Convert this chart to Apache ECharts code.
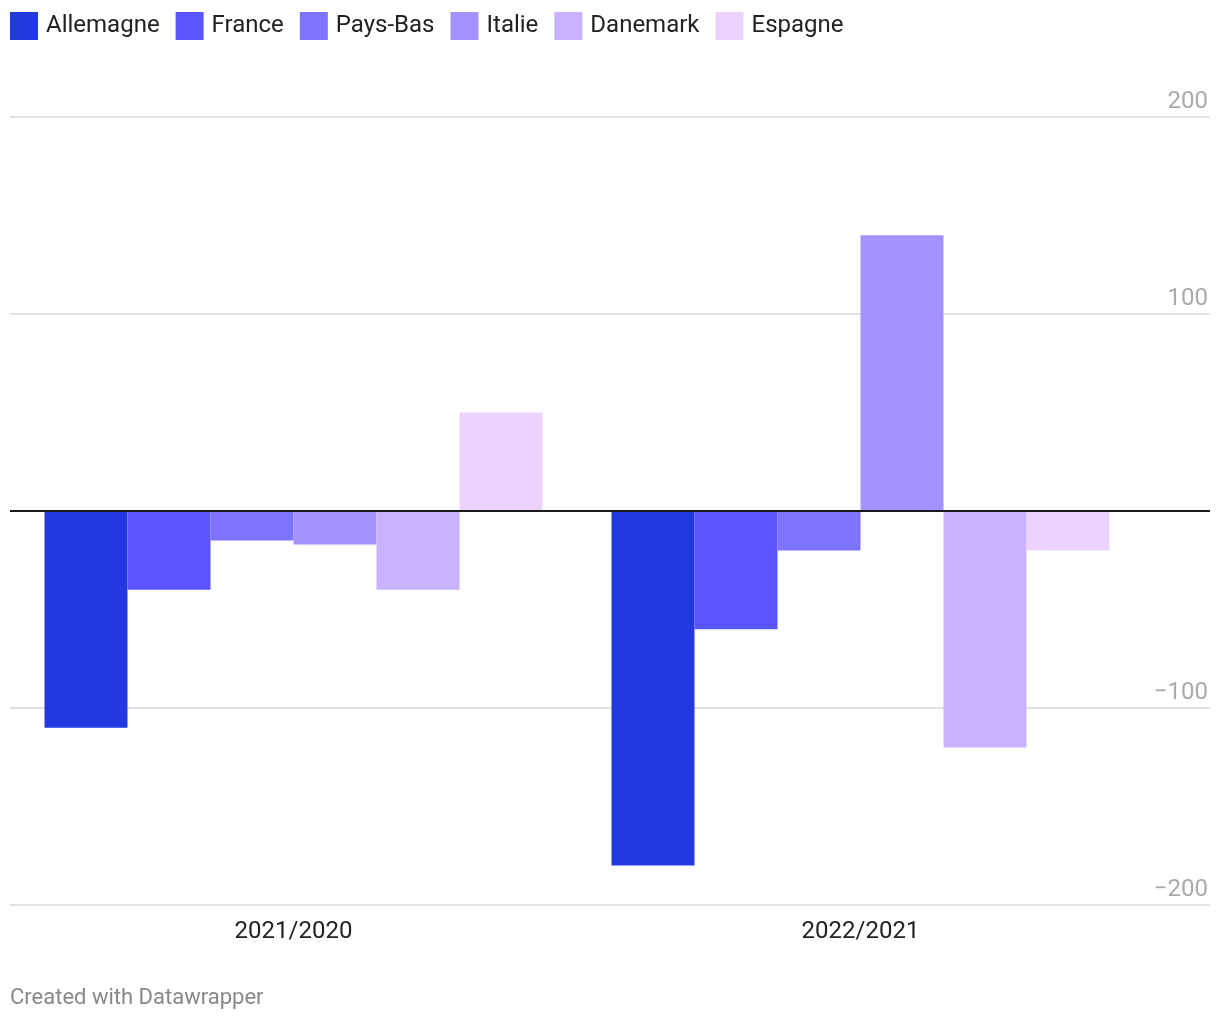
<!DOCTYPE html>
<html>
<head>
<meta charset="utf-8">
<script src="https://cdn.jsdelivr.net/npm/echarts@6/dist/echarts.min.js"></script>
<style>html,body{margin:0;padding:0;background:#fff}#c{width:1220px;height:1020px}</style>
</head>
<body>
<div id="c"></div>
<script>
const categories = ['2021/2020', '2022/2021'];
const seriesNames = ['Allemagne', 'France', 'Pays-Bas', 'Italie', 'Danemark', 'Espagne'];
const allemagne = [-110, -180];
const france = [-40, -60];
const paysBas = [-15, -20];
const italie = [-17, 140];
const danemark = [-40, -120];
const espagne = [50, -20];
const colors = ['#2139de', '#5a55ff', '#7e73ff', '#a392ff', '#c9b3ff', '#ecd3ff'];
const yTicks = [-200, -100, 0, 100, 200];

const values = [allemagne, france, paysBas, italie, danemark, espagne];
const font = 'Roboto, "Noto Sans", sans-serif';

const chart = echarts.init(document.getElementById('c'), null, {renderer: 'canvas'});
const barSeries = seriesNames.map((n, i) => ({
  name: n,
  type: 'bar',
  xAxisIndex: 1,
  yAxisIndex: 1,
  data: values[i],
  barWidth: 83,
  barGap: '0%',
  itemStyle: {color: colors[i]},
  emphasis: {disabled: true},
  animation: false
}));

chart.setOption({
  animation: false,
  color: colors,
  textStyle: {fontFamily: font},
  title: {
    text: 'Created with Datawrapper',
    left: 10, top: 987, padding: 0,
    textStyle: {fontSize: 22, color: '#888', fontWeight: 'normal', fontFamily: font}
  },
  legend: {
    data: seriesNames,
    left: 10, top: 12, padding: 0,
    icon: 'rect',
    itemWidth: 28, itemHeight: 28, itemGap: 16,
    selectedMode: false,
    textStyle: {fontSize: 24, color: '#222', fontFamily: font, padding: [8, 0, 0, 3]}
  },
  grid: [
    {left: 10, right: 10, top: 117, bottom: 115},
    {left: 10, right: 76, top: 117, bottom: 115}
  ],
  xAxis: [
    {type: 'value', gridIndex: 0, show: false, min: 0, max: 1},
    {type: 'category', gridIndex: 1, data: categories,
     axisLine: {show: false}, axisTick: {show: false}, splitLine: {show: false},
     axisLabel: {fontSize: 24, color: '#222', margin: 15, fontFamily: font}}
  ],
  yAxis: [
    {type: 'value', gridIndex: 0, min: -200, max: 200, interval: 100, position: 'right',
     axisLine: {show: false}, axisTick: {show: false},
     splitLine: {lineStyle: {color: '#e2e2e2', width: 2}},
     axisLabel: {inside: true, margin: 2, fontSize: 24, color: '#aaa', verticalAlign: 'bottom',
       padding: [0, 0, 3, 0], fontFamily: font,
       formatter: v => yTicks.includes(v) ? (v < 0 ? '\u2212' + Math.abs(v) : (v === 0 ? '' : String(v))) : ''}},
    {type: 'value', gridIndex: 1, min: -200, max: 200, interval: 100, show: false}
  ],
  series: [
    {
      type: 'line', xAxisIndex: 0, yAxisIndex: 0, data: [], silent: true,
      markLine: {symbol: 'none', silent: true, label: {show: false},
        lineStyle: {color: '#1a1a1a', width: 2, type: 'solid'},
        data: [{yAxis: 0}]}
    }
  ].concat(barSeries)
});
</script>
</body>
</html>
